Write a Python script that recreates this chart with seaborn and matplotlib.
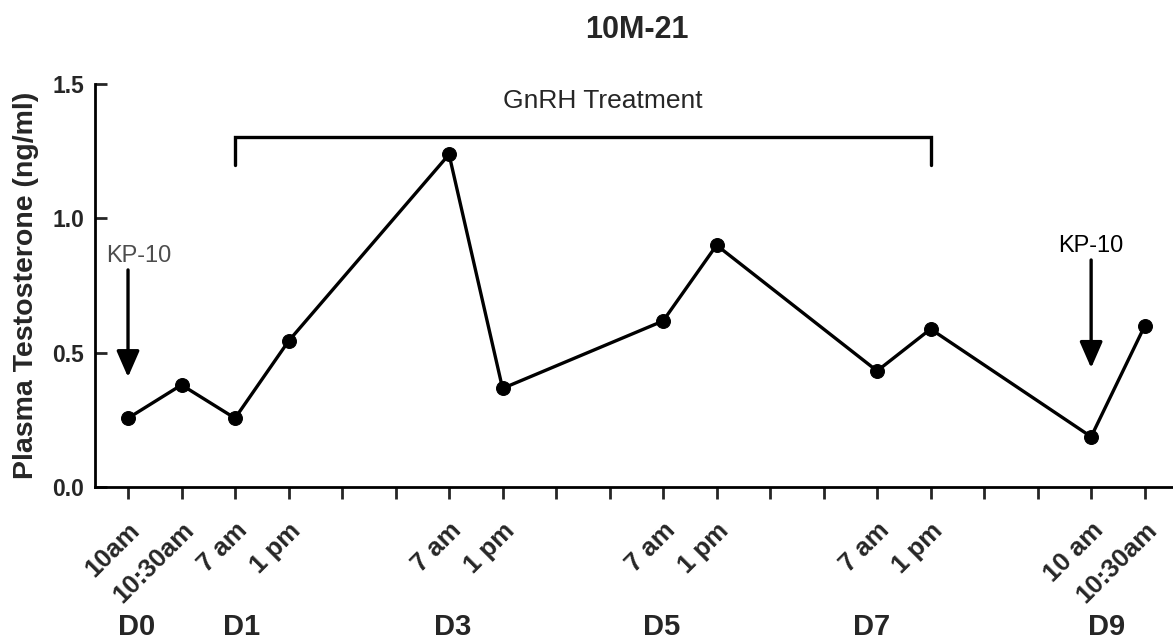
import pandas as pd
import matplotlib
matplotlib.use("Agg")
from matplotlib import pyplot as plt
from matplotlib import transforms
import seaborn as sns

# sample positions on the x axis (one slot per tick) and measured values
time_idx = [0, 1, 2, 3, 6, 7, 10, 11, 14, 15, 18, 19]
testosterone = [0.256, 0.38, 0.256, 0.543, 1.238, 0.367, 0.618, 0.90, 0.432, 0.588, 0.187, 0.599]

tick_labels = ["10am", "10:30am", "7 am", "1 pm", "", "", "7 am", "1 pm", "", "",
               "7 am", "1 pm", "", "", "7 am", "1 pm", "", "", "10 am", "10:30am"]
day_labels = ["D0", "D1", "D3", "D5", "D7", "D9"]
day_pos = [0.16, 2.13, 6.07, 9.98, 13.9, 18.29]

# GnRH treatment bracket: from slot 2 to slot 15
gnrh_start, gnrh_end = 2, 15
gnrh_top, gnrh_bottom = 1.304, 1.198

# KP-10 injections: (x slot, text x, text y, arrow top, arrow tip, text colour)
kp_x = [0, 18]
kp_text_x = [0.2, 18.0]
kp_text_y = [0.838, 0.876]
kp_arrow_top = [0.808, 0.845]
kp_arrow_tip = [0.409, 0.443]
kp_colors = ["#4d4d4d", "black"]

df = pd.DataFrame({"slot": time_idx, "value": testosterone})

sns.set_style("ticks")
plt.rcParams["font.family"] = ["Liberation Sans", "DejaVu Sans"]

fig = plt.figure(figsize=(11.73, 6.41), dpi=100)
ax = fig.add_axes([95 / 1173, 154 / 641, 1 - 95 / 1173, 403 / 641])

sns.lineplot(data=df, x="slot", y="value", color="black", lw=2.4,
             marker="o", markersize=10, markeredgecolor="black", ax=ax)

ax.set_xlim(-0.617, 19.53)
ax.set_ylim(0, 1.5)
ax.set_yticks([0, 0.5, 1.0, 1.5])
ax.set_yticklabels(["0.0", "0.5", "1.0", "1.5"], fontsize=16.5, fontweight="bold")
ax.set_xticks(range(len(tick_labels)))
ax.set_xticklabels(tick_labels, rotation=45, ha="right", rotation_mode="anchor",
                   fontsize=18.5, fontweight="bold")
# nudge the slanted time labels a little to the left
shift = transforms.ScaledTranslation(-4 / 100, 0, fig.dpi_scale_trans)
for lab in ax.get_xticklabels():
    lab.set_transform(lab.get_transform() + shift)
ax.tick_params(axis="x", direction="out", length=8.4, width=2, pad=14)
ax.tick_params(axis="y", direction="in", length=8.4, width=2, pad=8)
for s in ["left", "bottom"]:
    ax.spines[s].set_linewidth(2)
    ax.spines[s].set_color("black")
sns.despine(ax=ax)

ax.set_xlabel("")
ax.set_ylabel("Plasma Testosterone (ng/ml)", fontsize=20.5, fontweight="bold")
ax.yaxis.set_label_coords(-0.052, 0.5)

# bracket for GnRH treatment
ax.plot([gnrh_start, gnrh_start, gnrh_end, gnrh_end],
        [gnrh_bottom, gnrh_top, gnrh_top, gnrh_bottom], color="black", lw=2.4,
        solid_joinstyle="miter")
ax.text(8.88, 1.41, "GnRH Treatment", ha="center", va="baseline", fontsize=19)

for x, tx, ty, top, tip, c in zip(kp_x, kp_text_x, kp_text_y, kp_arrow_top,
                                  kp_arrow_tip, kp_colors):
    ax.text(tx, ty, "KP-10", ha="center", va="baseline", fontsize=17, color=c)
    ax.annotate("", xy=(x, tip), xytext=(x, top),
                arrowprops=dict(arrowstyle="-|>,head_length=0.8,head_width=0.35",
                                mutation_scale=20, lw=2.4, color="black",
                                shrinkA=0, shrinkB=0))

# day labels under the time labels
trans = transforms.blended_transform_factory(ax.transData, fig.transFigure)
for d, x in zip(day_labels, day_pos):
    ax.text(x, 0.0, d, transform=trans, ha="center", va="bottom",
            fontsize=21, fontweight="bold", clip_on=False)

fig.text(637 / 1173, 1 - 38 / 641, "10M-21", ha="center", va="baseline",
         fontsize=22, fontweight="bold")

fig.savefig("out.png", dpi=100)
